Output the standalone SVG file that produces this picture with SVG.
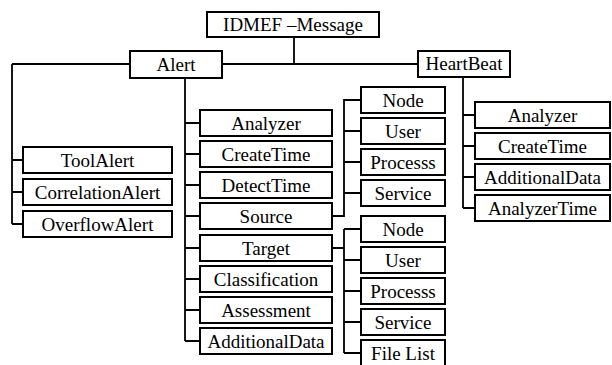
<svg xmlns="http://www.w3.org/2000/svg" width="612" height="365" viewBox="0 0 612 365">
  <style>
    .box { fill: #ffffff; stroke: #000000; stroke-width: 2; }
    .wire { fill: none; stroke: #000000; stroke-width: 1.8; }
    .lbl { font-family: 'Liberation Serif', 'Times New Roman', serif; font-size: 19px; text-anchor: middle; fill: #000000; }
  </style>
  <rect width="612" height="365" fill="#ffffff"/>

  <!-- tree connectors -->
  <g id="connectors" class="wire">
    <path d="M294,37 V64"/>
    <path d="M12,64 H130 M222,64 H418"/>
    <!-- Alert subtypes -->
    <path d="M12,64 V224 M12,160 H23 M12,192 H23 M12,224 H23"/>
    <!-- Alert children -->
    <path d="M185,78 V341 M185,123 H200 M185,154 H200 M185,185 H200 M185,216 H200 M185,248 H200 M185,279 H200 M185,310 H200 M185,341 H200"/>
    <!-- Source children -->
    <path d="M332,216 H344 V100 H361 M344,131 H361 M344,162 H361 M344,193 H361"/>
    <!-- Target children -->
    <path d="M332,248 H344 M344,229 V353 M344,229 H361 M344,260 H361 M344,291 H361 M344,322 H361 M344,353 H361"/>
    <!-- HeartBeat children -->
    <path d="M463,77 V208 M463,115 H475 M463,146 H475 M463,177 H475 M463,208 H475"/>
  </g>

  <g id="idmef-message"><rect class="box" x="207" y="12" width="172" height="25"/><text class="lbl" x="293" y="31">IDMEF –Message</text></g>
  <g id="alert"><rect class="box" x="130" y="51" width="92" height="27"/><text class="lbl" x="176" y="71">Alert</text></g>
  <g id="heartbeat"><rect class="box" x="418" y="51" width="92" height="26"/><text class="lbl" x="464" y="70">HeartBeat</text></g>

  <g id="toolalert"><rect class="box" x="23" y="147" width="149" height="26"/><text class="lbl" x="97.5" y="166.5">ToolAlert</text></g>
  <g id="correlationalert"><rect class="box" x="23" y="179" width="149" height="26"/><text class="lbl" x="97.5" y="198.5">CorrelationAlert</text></g>
  <g id="overflowalert"><rect class="box" x="23" y="211" width="149" height="26"/><text class="lbl" x="97.5" y="230.5">OverflowAlert</text></g>

  <g id="alert-analyzer"><rect class="box" x="200" y="110" width="132" height="26"/><text class="lbl" x="266" y="129.5">Analyzer</text></g>
  <g id="alert-createtime"><rect class="box" x="200" y="141" width="132" height="26"/><text class="lbl" x="266" y="160.5">CreateTime</text></g>
  <g id="alert-detecttime"><rect class="box" x="200" y="172" width="132" height="26"/><text class="lbl" x="266" y="191.5">DetectTime</text></g>
  <g id="alert-source"><rect class="box" x="200" y="203" width="132" height="26"/><text class="lbl" x="266" y="222.5">Source</text></g>
  <g id="alert-target"><rect class="box" x="200" y="235" width="132" height="26"/><text class="lbl" x="266" y="254.5">Target</text></g>
  <g id="alert-classification"><rect class="box" x="200" y="266" width="132" height="26"/><text class="lbl" x="266" y="285.5">Classification</text></g>
  <g id="alert-assessment"><rect class="box" x="200" y="297" width="132" height="26"/><text class="lbl" x="266" y="316.5">Assessment</text></g>
  <g id="alert-additionaldata"><rect class="box" x="200" y="328" width="132" height="26"/><text class="lbl" x="266" y="347.5">AdditionalData</text></g>

  <g id="source-node"><rect class="box" x="361" y="87" width="84" height="26"/><text class="lbl" x="403" y="106.5">Node</text></g>
  <g id="source-user"><rect class="box" x="361" y="118" width="84" height="26"/><text class="lbl" x="403" y="137.5">User</text></g>
  <g id="source-process"><rect class="box" x="361" y="149" width="84" height="26"/><text class="lbl" x="403" y="168.5">Processs</text></g>
  <g id="source-service"><rect class="box" x="361" y="180" width="84" height="26"/><text class="lbl" x="403" y="199.5">Service</text></g>

  <g id="target-node"><rect class="box" x="361" y="216" width="84" height="26"/><text class="lbl" x="403" y="235.5">Node</text></g>
  <g id="target-user"><rect class="box" x="361" y="247" width="84" height="26"/><text class="lbl" x="403" y="266.5">User</text></g>
  <g id="target-process"><rect class="box" x="361" y="278" width="84" height="26"/><text class="lbl" x="403" y="297.5">Processs</text></g>
  <g id="target-service"><rect class="box" x="361" y="309" width="84" height="26"/><text class="lbl" x="403" y="328.5">Service</text></g>
  <g id="target-filelist"><rect class="box" x="361" y="340" width="84" height="27"/><text class="lbl" x="403" y="359.5">File List</text></g>

  <g id="hb-analyzer"><rect class="box" x="475" y="102" width="135" height="26"/><text class="lbl" x="542.5" y="121.5">Analyzer</text></g>
  <g id="hb-createtime"><rect class="box" x="475" y="133" width="135" height="26"/><text class="lbl" x="542.5" y="152.5">CreateTime</text></g>
  <g id="hb-additionaldata"><rect class="box" x="475" y="164" width="135" height="26"/><text class="lbl" x="542.5" y="183.5">AdditionalData</text></g>
  <g id="hb-analyzertime"><rect class="box" x="475" y="195" width="135" height="26"/><text class="lbl" x="542.5" y="214.5">AnalyzerTime</text></g>
</svg>
